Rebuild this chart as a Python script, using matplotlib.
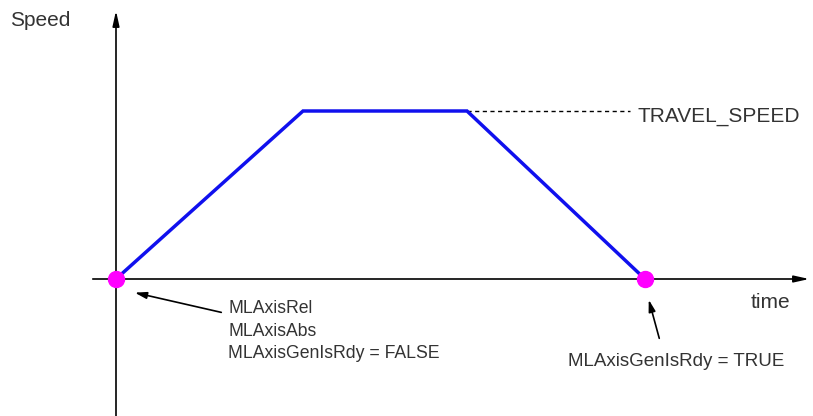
import matplotlib.pyplot as plt

plt.rcParams['font.family'] = ['Liberation Sans', 'DejaVu Sans']

# motion profile (time in arbitrary units, speed normalised to TRAVEL_SPEED)
t = [0, 187, 351, 529]
speed = [0, 1, 1, 0]
events_t = [0, 529]
events_v = [0, 0]

txt = '#333333'
fig = plt.figure(figsize=(8.13, 4.16), dpi=100)
ax = fig.add_axes([0, 0, 1, 1])
ax.set_xlim(-116, 697)
ax.set_ylim(-137 / 168, 279 / 168)
ax.axis('off')

# axes with arrows
ax.annotate('', xy=(0, 271 / 168), xytext=(0, -140 / 168),
            arrowprops=dict(arrowstyle='-|>,head_length=0.9,head_width=0.2', color='black', lw=1.2))
ax.annotate('', xy=(696, 0), xytext=(-26, 0),
            arrowprops=dict(arrowstyle='-|>,head_length=0.9,head_width=0.2', color='black', lw=1.2))

ax.plot(t, speed, color='#1010ee', lw=2.5, solid_joinstyle='miter', zorder=3)
ax.plot([t[2], 514], [1, 1], color='black', lw=1, ls=(0, (3, 2.5)))
ax.plot(events_t, events_v, 'o', color='#ff00ff', markersize=11.5, zorder=4)

ax.text(521, 1 - 5 / 168, 'TRAVEL_SPEED', fontsize=15, color=txt, va='center', ha='left')
ax.text(-106, 259 / 168, 'Speed', fontsize=15, color=txt, va='center', ha='left')
ax.text(654, -24 / 168, 'time', fontsize=15, color=txt, va='center', ha='center')

ax.annotate('', xy=(16, -13 / 168), xytext=(108, -34 / 168),
            arrowprops=dict(arrowstyle='-|>,head_length=0.7,head_width=0.2', color='black', lw=1.2))
ax.text(112, -52 / 168, 'MLAxisRel\nMLAxisAbs\nMLAxisGenIsRdy = FALSE',
        fontsize=12.7, color=txt, va='center', ha='left', linespacing=1.42)

ax.annotate('', xy=(532, -18 / 168), xytext=(544, -62 / 168),
            arrowprops=dict(arrowstyle='-|>,head_length=0.7,head_width=0.2', color='black', lw=1.2))
ax.text(560, -83 / 168, 'MLAxisGenIsRdy = TRUE', fontsize=13.5, color=txt, va='center', ha='center')

fig.savefig('out.png', dpi=100)
